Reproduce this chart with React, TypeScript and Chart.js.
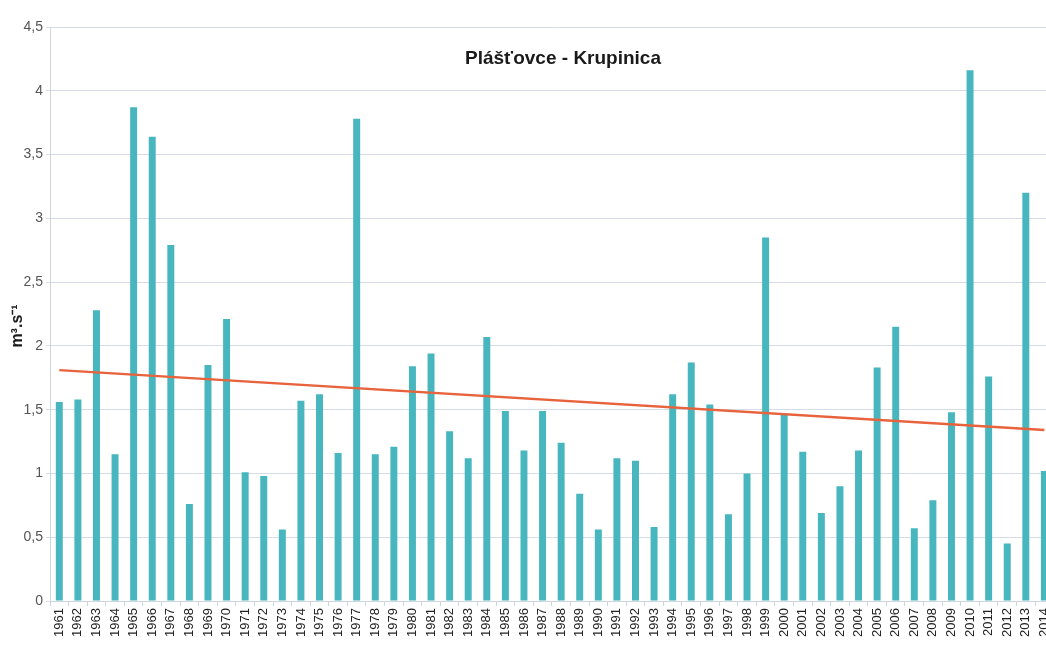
import React, { useEffect, useRef } from "react";
import { Chart, registerables } from "chart.js";

Chart.register(...registerables);

const years: string[] = [
  "1961","1962","1963","1964","1965","1966","1967","1968","1969","1970",
  "1971","1972","1973","1974","1975","1976","1977","1978","1979","1980",
  "1981","1982","1983","1984","1985","1986","1987","1988","1989","1990",
  "1991","1992","1993","1994","1995","1996","1997","1998","1999","2000",
  "2001","2002","2003","2004","2005","2006","2007","2008","2009","2010",
  "2011","2012","2013","2014",
];

const discharge: number[] = [
  1.56, 1.58, 2.28, 1.15, 3.87, 3.64, 2.79, 0.76, 1.85, 2.21,
  1.01, 0.98, 0.56, 1.57, 1.62, 1.16, 3.78, 1.15, 1.21, 1.84,
  1.94, 1.33, 1.12, 2.07, 1.49, 1.18, 1.49, 1.24, 0.84, 0.56,
  1.12, 1.10, 0.58, 1.62, 1.87, 1.54, 0.68, 1.00, 2.85, 1.47,
  1.17, 0.69, 0.90, 1.18, 1.83, 2.15, 0.57, 0.79, 1.48, 4.16,
  1.76, 0.45, 3.20, 1.02,
];

const trendStart = 1.81;
const trendEnd = 1.34;

const titleText = "Plášťovce - Krupinica";
const yAxisLabel = "m³.s⁻¹";

export default function App() {
  const ref = useRef<HTMLCanvasElement>(null);

  useEffect(() => {
    if (!ref.current) return;
    const trend = years.map((_, i) =>
      i === 0 ? trendStart : i === years.length - 1 ? trendEnd : null
    );

    const overlay = {
      id: "overlayText",
      afterDraw(chart: any) {
        const ctx = chart.ctx;
        ctx.save();
        ctx.fillStyle = "#1a1a1a";
        ctx.font = "bold 19px 'Liberation Sans', Arial, sans-serif";
        ctx.textAlign = "center";
        ctx.textBaseline = "middle";
        ctx.fillText(titleText, 563, 59);
        ctx.translate(18, 326);
        ctx.rotate(-Math.PI / 2);
        ctx.font = "bold 16px 'Liberation Sans', Arial, sans-serif";
        ctx.fillText(yAxisLabel, 0, 0);
        ctx.restore();
      },
    };

    const chart = new Chart(ref.current, {
      type: "bar",
      data: {
        labels: years,
        datasets: [
          {
            type: "line",
            data: trend as any,
            borderColor: "#E8623C",
            borderWidth: 2.5,
            pointRadius: 0,
            spanGaps: true,
            fill: false,
            order: 0,
          } as any,
          {
            type: "bar",
            data: discharge,
            backgroundColor: "#48B6BF",
            barPercentage: 0.75,
            categoryPercentage: 0.5,
            order: 1,
          },
        ],
      },
      options: {
        responsive: false,
        animation: false,
        layout: { padding: { top: 27, right: 0, left: 0, bottom: 0 } },
        plugins: {
          legend: { display: false },
          tooltip: { enabled: false },
          title: { display: false },
        },
        scales: {
          x: {
            offset: true,
            grid: {
              display: true,
              drawOnChartArea: false,
              offset: true,
              tickLength: 5,
              color: "#cdd5e0",
            },
            border: { color: "#cdd5e0" },
            ticks: {
              autoSkip: false,
              minRotation: 90,
              maxRotation: 90,
              padding: 2,
              color: "#222222",
              font: { family: "'Liberation Sans', Arial, sans-serif", size: 13 },
            },
            afterFit(scale: any) {
              scale.height = 45;
            },
          },
          y: {
            min: 0,
            max: 4.5,
            ticks: {
              stepSize: 0.5,
              padding: 3,
              color: "#555555",
              font: { family: "'Liberation Sans', Arial, sans-serif", size: 14 },
              callback: (v: any) => String(v).replace(".", ","),
            },
            grid: { color: "#d5dce6", tickLength: 4 },
            border: { color: "#cdd5e0" },
            afterFit(scale: any) {
              scale.width = 50;
            },
          },
        },
      },
      plugins: [overlay],
    });
    return () => chart.destroy();
  }, []);

  return (
    <div
      style={{
        position: "absolute",
        left: 0,
        top: 0,
        width: 1046,
        height: 646,
        overflow: "hidden",
        background: "#ffffff",
      }}
    >
      <canvas ref={ref} width={1062} height={646} style={{ display: "block" }} />
    </div>
  );
}
